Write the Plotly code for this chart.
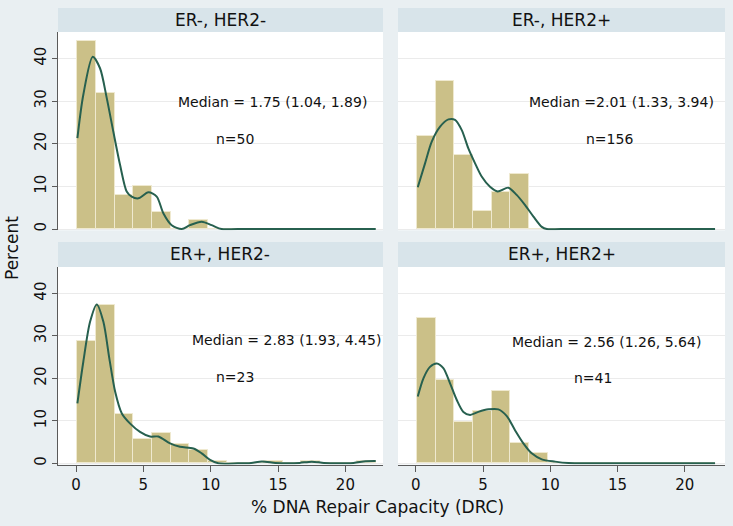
import plotly.graph_objects as go

# ---------------- data ----------------
panel_titles = ["ER-, HER2-", "ER-, HER2+", "ER+, HER2-", "ER+, HER2+"]
median_labels = ["Median = 1.75 (1.04, 1.89)", "Median =2.01 (1.33, 3.94)",
                 "Median = 2.83 (1.93, 4.45)", "Median = 2.56 (1.26, 5.64)"]
n_labels = ["n=50", "n=156", "n=23", "n=41"]

bin_start = 0.1
bin_width = 1.386
n_bins = 16

pct_erneg_her2neg = [44, 32, 8, 10, 4, 0, 2, 0, 0, 0, 0, 0, 0, 0, 0, 0]
pct_erneg_her2pos = [21.7, 34.8, 17.4, 4.3, 8.7, 13.0, 0, 0, 0, 0, 0, 0, 0, 0, 0, 0]
pct_erpos_her2neg = [28.8, 37.2, 11.5, 5.8, 7.1, 4.5, 3.2, 0.64, 0, 0, 0.64, 0, 0.64, 0, 0, 0.64]
pct_erpos_her2pos = [34.1, 19.5, 9.8, 12.2, 17.1, 4.9, 2.4, 0, 0, 0, 0, 0, 0, 0, 0, 0]

kde1_x = [0.1, 0.54, 1.24, 1.78, 2.28, 2.77, 3.27, 3.76, 4.13, 4.63, 5.37, 5.99, 6.48, 7.1, 7.85, 8.46, 9.33, 10.07, 10.8, 12.0, 22.25]
kde1_y = [21.3, 31.5, 40.4, 37.7, 30.7, 22.8, 15.0, 8.8, 7.6, 7.2, 8.6, 7.6, 3.7, 0.9, 0.0, 0.9, 1.7, 0.9, 0.0, 0.0, 0.0]

kde2_x = [0.15, 0.69, 1.19, 1.81, 2.43, 2.92, 3.42, 3.91, 4.41, 4.9, 5.52, 6.09, 6.88, 7.5, 8.13, 8.75, 9.37, 9.74, 10.8, 22.25]
kde2_y = [9.8, 15.4, 20.5, 24.0, 25.7, 25.6, 23.2, 18.9, 15.4, 12.3, 9.9, 8.8, 9.7, 8.0, 5.6, 2.9, 0.5, 0.0, 0.0, 0.0]

kde3_x = [0.1, 0.54, 1.04, 1.54, 2.03, 2.47, 2.9, 3.39, 4.0, 4.75, 5.49, 6.11, 6.98, 7.72, 8.71, 9.33, 9.95, 10.56, 12.0, 13.0, 13.8, 14.8, 15.8, 16.6, 17.5, 18.4, 19.4, 20.6, 21.5, 22.25]
kde3_y = [14.1, 23.9, 33.3, 37.4, 33.3, 24.7, 16.9, 11.8, 9.4, 7.4, 6.3, 6.3, 4.7, 3.9, 3.5, 2.35, 0.8, 0.0, 0.0, 0.1, 0.45, 0.1, 0.0, 0.1, 0.4, 0.1, 0.0, 0.1, 0.5, 0.55]

kde4_x = [0.15, 0.57, 1.06, 1.56, 2.05, 2.55, 3.05, 3.54, 4.04, 4.65, 5.4, 6.14, 6.77, 7.38, 8.0, 8.62, 9.37, 10.36, 11.35, 11.85, 13.0, 22.25]
kde4_y = [15.7, 20.0, 22.7, 23.5, 22.4, 18.8, 14.9, 12.1, 11.4, 12.1, 12.7, 12.7, 11.1, 7.8, 4.7, 2.35, 0.94, 0.4, 0.05, 0.0, 0.0, 0.0]

x_tick_vals = [0, 5, 10, 15, 20]
y_tick_vals = [0, 10, 20, 30, 40]

# ---------------- styling / layout ----------------
FONT = "DejaVu Sans"
BAR_COLOR = "#cbc088"
LINE_COLOR = "#27604f"
BG = "#e9eff2"
STRIP = "#d8e4ea"
AXIS_COLOR = "#5a5a5a"
GRID = "#ebebeb"

W, H = 733, 526
def px(v):
    return v / W
def py(v):
    return 1 - v / H

pct_all = [pct_erneg_her2neg, pct_erneg_her2pos, pct_erpos_her2neg, pct_erpos_her2pos]
kde_all = [(kde1_x, kde1_y), (kde2_x, kde2_y), (kde3_x, kde3_y), (kde4_x, kde4_y)]
centers = [bin_start + (i + 0.5) * bin_width for i in range(n_bins)]

# panel geometry (pixels): (left, right, top, bottom)
geo = [(58, 383, 32, 230.3), (398, 725, 32, 230.3),
       (58, 383, 267, 464.6), (398, 725, 267, 464.6)]
xranges = [[-1.34, 22.79], [-1.32, 22.99], [-1.34, 22.79], [-1.32, 22.99]]
yrange = [-0.3, 46.2]
strip_y = [(8, 32), (8, 32), (242, 267), (242, 267)]
median_pos = [(14.6, 29.8), (15.3, 29.8), (15.6, 29.0), (14.2, 28.5)]
n_pos = [(11.8, 21.1), (14.4, 21.1), (11.8, 20.3), (13.2, 20.1)]

fig = go.Figure()
shapes = []
annotations = []
layout = {}

for k in range(4):
    sfx = "" if k == 0 else str(k + 1)
    xa, ya = "x" + sfx, "y" + sfx
    fig.add_trace(go.Bar(x=centers, y=pct_all[k], width=bin_width,
                         marker=dict(color=BAR_COLOR, line=dict(color="#efe9cf", width=1)),
                         xaxis=xa, yaxis=ya, showlegend=False))
    kx, ky = kde_all[k]
    fig.add_trace(go.Scatter(x=kx, y=ky, mode="lines",
                             line=dict(color=LINE_COLOR, width=2, shape="spline", smoothing=0.8),
                             xaxis=xa, yaxis=ya, showlegend=False))
    l, r, t, b = geo[k]
    left_col = k in (0, 2)
    bottom_row = k in (2, 3)
    layout["xaxis" + sfx] = dict(
        domain=[px(l), px(r)], range=xranges[k], anchor=ya, automargin=False,
        showgrid=False, zeroline=False,
        showline=bottom_row, linecolor=AXIS_COLOR, linewidth=1,
        ticks="outside" if bottom_row else "", ticklen=6, tickcolor=AXIS_COLOR,
        tickvals=x_tick_vals, showticklabels=bottom_row,
        tickfont=dict(family=FONT, size=15, color="#111"))
    layout["yaxis" + sfx] = dict(
        domain=[py(b), py(t)], range=yrange, anchor=xa, automargin=False,
        showgrid=True, gridcolor=GRID, gridwidth=1, zeroline=False,
        showline=left_col, linecolor=AXIS_COLOR, linewidth=1,
        ticks="outside" if left_col else "", ticklen=5, tickcolor=AXIS_COLOR,
        tickvals=y_tick_vals, showticklabels=left_col, tickangle=-90,
        tickfont=dict(family=FONT, size=15, color="#111"))
    # strip
    s0, s1 = strip_y[k]
    shapes.append(dict(type="rect", xref="paper", yref="paper",
                       x0=px(l), x1=px(r), y0=py(s1), y1=py(s0),
                       fillcolor=STRIP, line=dict(width=0), layer="below"))
    annotations.append(dict(xref="paper", yref="paper", x=px((l + r) / 2), y=py((s0 + s1) / 2),
                            text=panel_titles[k], showarrow=False,
                            font=dict(family=FONT, size=17, color="#111"),
                            xanchor="center", yanchor="middle"))
    annotations.append(dict(xref=xa, yref=ya, x=median_pos[k][0], y=median_pos[k][1],
                            text=median_labels[k], showarrow=False,
                            font=dict(family=FONT, size=14, color="#111"),
                            xanchor="center", yanchor="middle"))
    annotations.append(dict(xref=xa, yref=ya, x=n_pos[k][0], y=n_pos[k][1],
                            text=n_labels[k], showarrow=False,
                            font=dict(family=FONT, size=14, color="#111"),
                            xanchor="center", yanchor="middle"))

annotations.append(dict(xref="paper", yref="paper", x=px(12), y=py(248),
                        text="Percent", textangle=-90, showarrow=False,
                        font=dict(family=FONT, size=17, color="#111"),
                        xanchor="center", yanchor="middle"))
annotations.append(dict(xref="paper", yref="paper", x=px(377), y=py(507),
                        text="% DNA Repair Capacity (DRC)", showarrow=False,
                        font=dict(family=FONT, size=17, color="#111"),
                        xanchor="center", yanchor="middle"))

fig.update_layout(
    width=W, height=H, margin=dict(l=0, r=0, t=0, b=0, autoexpand=False),
    paper_bgcolor=BG, plot_bgcolor="white",
    bargap=0, showlegend=False,
    shapes=shapes, annotations=annotations,
    font=dict(family=FONT),
    **layout)

fig.write_html("out.html",
               config={"displayModeBar": False},
               post_script="document.body.style.margin='0';document.body.style.padding='0';"
                           "document.body.style.overflow='hidden';")
